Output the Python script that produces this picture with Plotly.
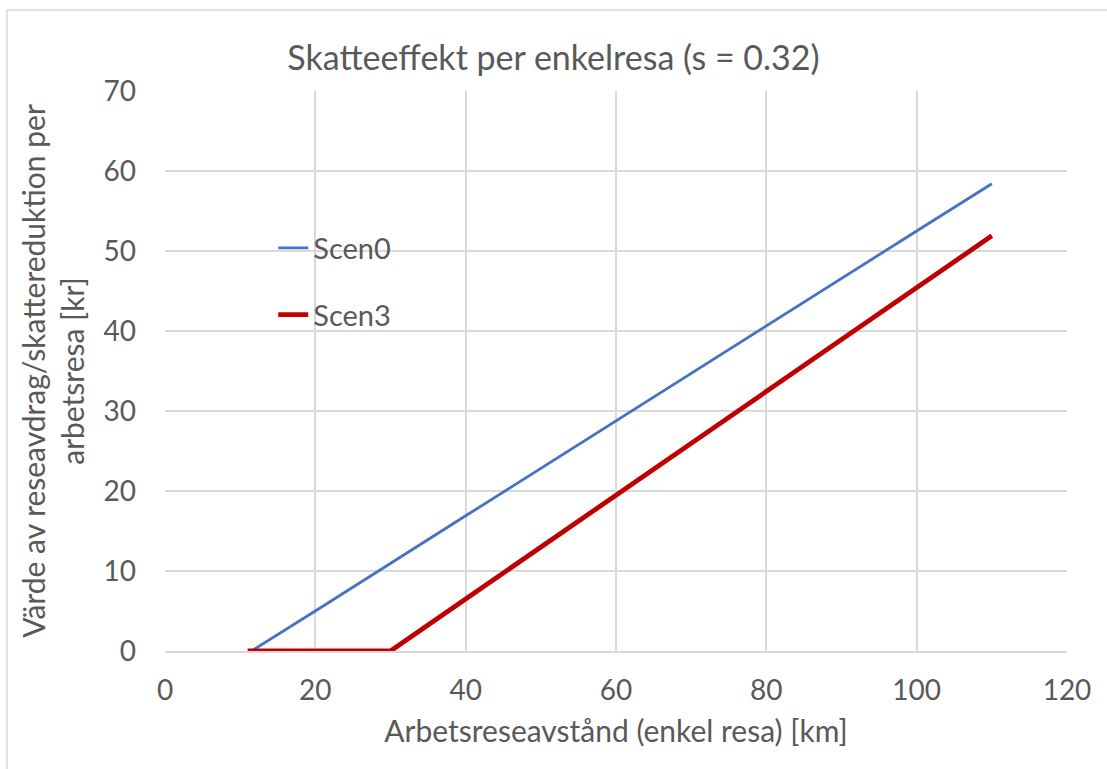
import plotly.graph_objects as go

# Data
dist_scen0 = [11.5, 20, 40, 60, 80, 100, 110]
val_scen0 = [0, 5.0, 16.9, 28.8, 40.6, 52.5, 58.4]
dist_scen3 = [11, 20, 30, 40, 60, 80, 100, 110]
val_scen3 = [0, 0, 0, 6.5, 19.5, 32.4, 45.4, 51.9]

title_text = "Skatteeffekt per enkelresa (s = 0.32)"
x_title = "Arbetsreseavstånd (enkel resa) [km]"
y_title = "Värde av reseavdrag/skattereduktion per<br>arbetsresa [kr]"

font_family = "Lato, 'Open Sans', sans-serif"
txt = "#595959"
grid = "#D9D9D9"

fig = go.Figure()
fig.add_trace(go.Scatter(x=dist_scen0, y=val_scen0, mode="lines", name="Scen0",
                         legendgroup="a", line=dict(color="#4472C4", width=2.8)))
fig.add_trace(go.Scatter(x=dist_scen3, y=val_scen3, mode="lines", name="Scen3",
                         legendgroup="b", line=dict(color="#C00000", width=4.8)))

fig.update_layout(
    width=1107, height=769,
    paper_bgcolor="white", plot_bgcolor="white",
    margin=dict(l=165, r=40, t=91, b=118),
    font=dict(family=font_family, color=txt, size=28),
    title=dict(text=title_text, x=0.5, xanchor="center", y=1 - 58 / 769, yanchor="middle",
               font=dict(size=34, color=txt, family=font_family)),
    showlegend=True,
    legend=dict(x=0.12, y=0.765, xanchor="left", yanchor="top", bgcolor="rgba(0,0,0,0)",
                font=dict(size=29, color=txt), tracegroupgap=26),
    xaxis=dict(range=[0, 120], dtick=20, tick0=0, showgrid=True, gridcolor=grid, gridwidth=1.5,
               showline=True, linecolor=grid, linewidth=1.5, zeroline=False, ticks="",
               tickfont=dict(size=28, color=txt), ticklabelstandoff=14,
               title=dict(text=x_title, font=dict(size=30, color=txt), standoff=16)),
    yaxis=dict(range=[0, 70], dtick=10, tick0=0, showgrid=True, gridcolor=grid, gridwidth=1.5,
               showline=False, zeroline=False, ticks="",
               tickfont=dict(size=28, color=txt), ticklabelstandoff=28,
               title=dict(text=y_title, font=dict(size=30, color=txt), standoff=10)),
)

fig.add_shape(type="rect", xref="paper", yref="paper",
              x0=(7 - 165) / 902, x1=1.2, y0=-0.5, y1=1 + (91 - 10) / 560,
              line=dict(color="#D9D9D9", width=1.5), fillcolor="rgba(0,0,0,0)", layer="below")

fig.write_html("out.html", config={"displayModeBar": False},
               post_script="document.body.style.margin='0';")
